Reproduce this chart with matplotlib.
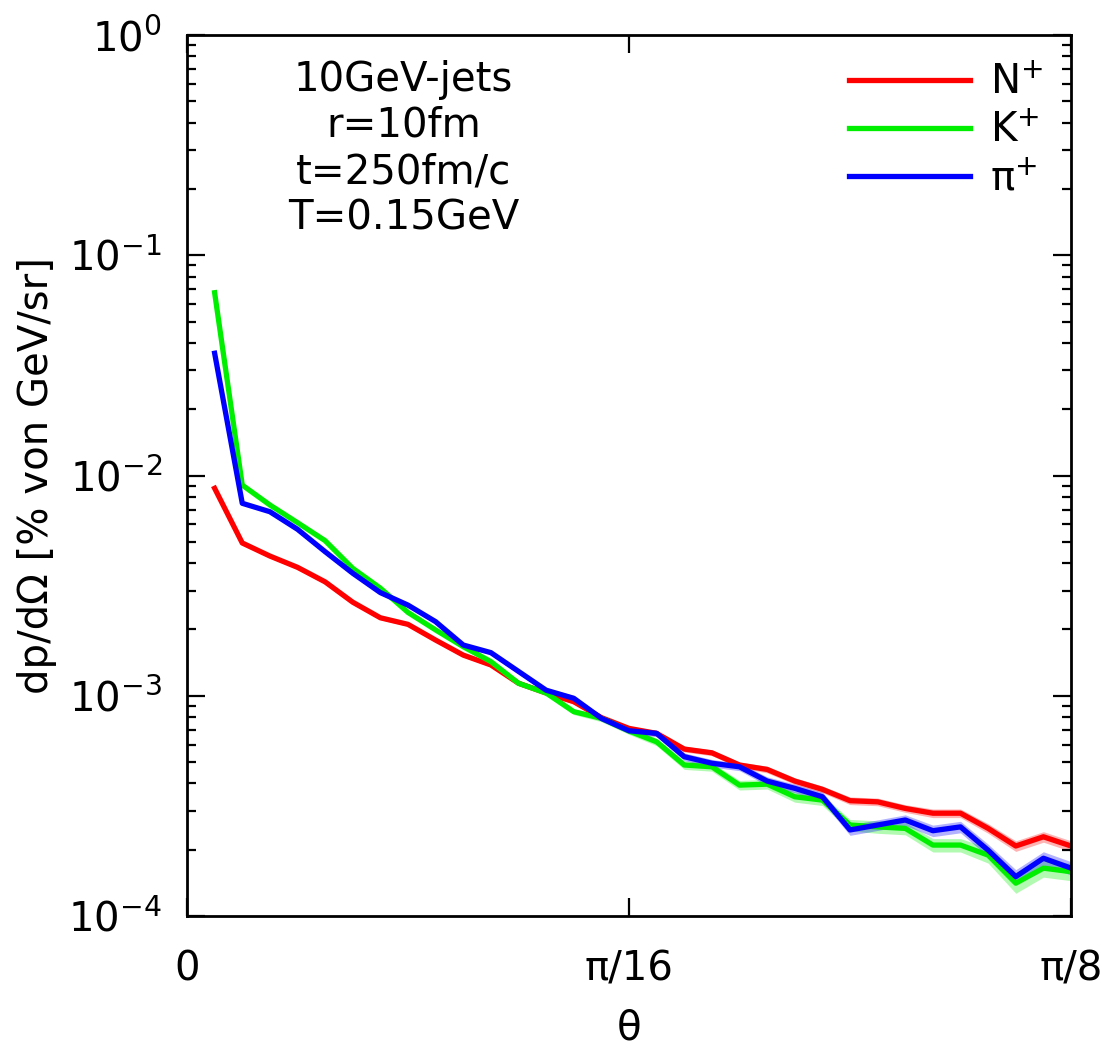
import numpy as np
import matplotlib
matplotlib.use('Agg')
import matplotlib.pyplot as plt
from matplotlib.ticker import LogLocator, NullFormatter

# theta bins: k * pi/256, k = 1..32
k = np.arange(1, 33)
theta = k * np.pi / 256

# dp/dOmega (N+, K+, pi+)
y_N = [8.75e-3, 4.94e-3, 4.31e-3, 3.83e-3, 3.29e-3, 2.66e-3, 2.26e-3, 2.11e-3,
       1.79e-3, 1.53e-3, 1.38e-3, 1.14e-3, 1.03e-3, 9.4e-4, 7.96e-4, 7.11e-4,
       6.75e-4, 5.73e-4, 5.51e-4, 4.85e-4, 4.63e-4, 4.10e-4, 3.76e-4, 3.34e-4,
       3.30e-4, 3.08e-4, 2.93e-4, 2.93e-4, 2.50e-4, 2.08e-4, 2.29e-4, 2.08e-4]
y_K = [6.76e-2, 9.05e-3, 7.35e-3, 6.11e-3, 5.06e-3, 3.79e-3, 3.08e-3, 2.39e-3,
       1.99e-3, 1.67e-3, 1.43e-3, 1.14e-3, 1.03e-3, 8.47e-4, 7.90e-4, 6.92e-4,
       6.18e-4, 4.85e-4, 4.76e-4, 3.93e-4, 3.97e-4, 3.48e-4, 3.36e-4, 2.59e-4,
       2.54e-4, 2.50e-4, 2.10e-4, 2.10e-4, 1.89e-4, 1.41e-4, 1.65e-4, 1.59e-4]
y_pi = [3.59e-2, 7.48e-3, 6.85e-3, 5.70e-3, 4.51e-3, 3.60e-3, 2.94e-3, 2.58e-3,
        2.17e-3, 1.70e-3, 1.57e-3, 1.29e-3, 1.06e-3, 9.74e-4, 7.90e-4, 6.94e-4,
        6.75e-4, 5.29e-4, 4.94e-4, 4.76e-4, 4.10e-4, 3.80e-4, 3.48e-4, 2.46e-4,
        2.59e-4, 2.73e-4, 2.44e-4, 2.54e-4, 1.99e-4, 1.51e-4, 1.83e-4, 1.65e-4]

# relative uncertainty (shaded bands)
err_N = [0.03, 0.02, 0.02, 0.02, 0.02, 0.02, 0.02, 0.02, 0.02, 0.02, 0.02, 0.02,
         0.02, 0.025, 0.025, 0.025, 0.03, 0.03, 0.03, 0.03, 0.035, 0.035, 0.035,
         0.04, 0.04, 0.04, 0.045, 0.045, 0.05, 0.055, 0.055, 0.055]
err_K = [0.01, 0.01, 0.01, 0.01, 0.015, 0.015, 0.015, 0.02, 0.02, 0.02, 0.025,
         0.025, 0.03, 0.03, 0.035, 0.035, 0.04, 0.045, 0.045, 0.05, 0.05, 0.055,
         0.055, 0.06, 0.065, 0.065, 0.07, 0.07, 0.08, 0.1, 0.09, 0.09]
err_pi = [0.01, 0.01, 0.01, 0.01, 0.015, 0.015, 0.015, 0.02, 0.02, 0.02, 0.02,
          0.025, 0.025, 0.03, 0.03, 0.03, 0.035, 0.04, 0.04, 0.04, 0.045, 0.045,
          0.05, 0.055, 0.055, 0.055, 0.06, 0.06, 0.065, 0.075, 0.07, 0.07]

series = [("N$^{+}$", y_N, err_N, "#ff0000"),
          ("K$^{+}$", y_K, err_K, "#00ee00"),
          ("π$^{+}$", y_pi, err_pi, "#0000ff")]

plt.rcParams['font.family'] = ['DejaVu Sans']
plt.rcParams['mathtext.default'] = 'regular'
fs = 29

fig = plt.figure(figsize=(11.02, 10.51), dpi=100)
ax = fig.add_axes([0.1697, 0.1284, 0.9719 - 0.1697, 0.9667 - 0.1284])

for label, y, e, c in series:
    y = np.array(y)
    e = np.array(e)
    ax.fill_between(theta, y * (1 - e), y * (1 + e), color=c, alpha=0.3, lw=0)
    ax.plot(theta, y, color=c, lw=3.8, label=label)

ax.set_yscale('log')
ax.set_xlim(0, np.pi / 8)
ax.set_ylim(1e-4, 1)
ax.set_xticks([0, np.pi / 16, np.pi / 8])
ax.set_xticklabels(['0', 'π/16', 'π/8'])
ax.yaxis.set_major_locator(LogLocator(base=10, numticks=10))
ax.yaxis.set_minor_locator(LogLocator(base=10, subs=np.arange(2, 10), numticks=20))
ax.yaxis.set_minor_formatter(NullFormatter())

ax.tick_params(which='both', direction='in', top=True, right=True, width=1.6)
ax.tick_params(which='major', length=13, labelsize=fs)
ax.tick_params(axis='x', which='major', pad=24)
ax.tick_params(axis='y', which='major', pad=18)
ax.tick_params(which='minor', length=6.5)
for s in ax.spines.values():
    s.set_linewidth(2)

ax.set_xlabel('θ', fontsize=fs, labelpad=14)
ax.set_ylabel('dp/dΩ [% von GeV/sr]', fontsize=fs, labelpad=8)

ax.text(0.245, 0.972, "10GeV-jets\nr=10fm\nt=250fm/c\nT=0.15GeV",
        transform=ax.transAxes, ha='center', va='top', fontsize=fs,
        multialignment='center', linespacing=1.2)

ax.legend(loc='upper right', bbox_to_anchor=(1.0, 1.0), frameon=False,
          fontsize=fs, handlelength=3.0, handletextpad=0.5, labelspacing=0.2,
          borderaxespad=0.3)

fig.savefig('out.png', dpi=100)
